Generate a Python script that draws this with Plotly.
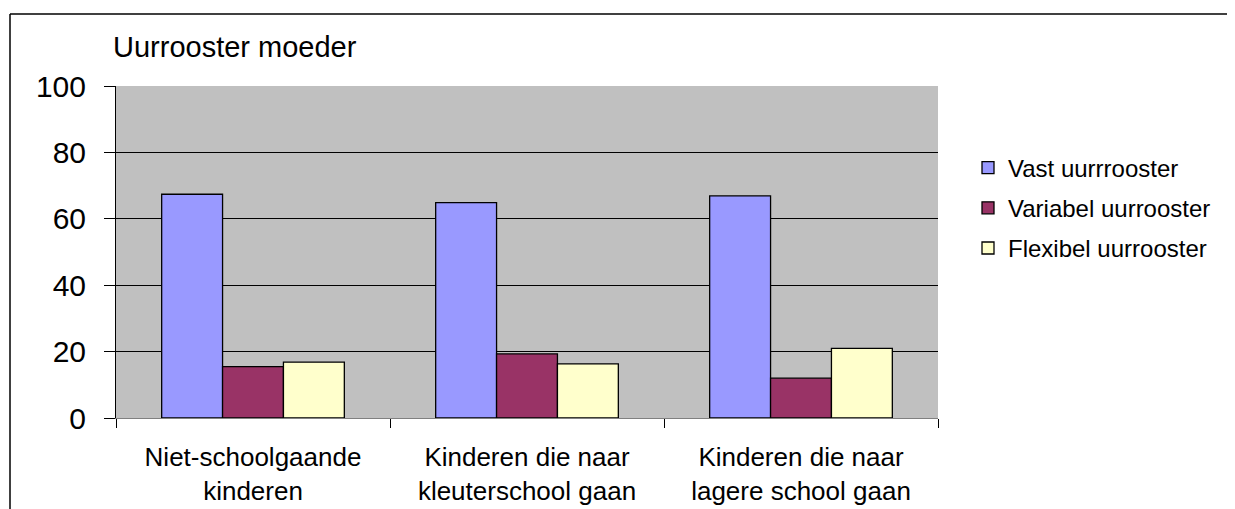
import plotly.graph_objects as go

categories = ["Niet-schoolgaande<br>kinderen",
              "Kinderen die naar<br>kleuterschool gaan",
              "Kinderen die naar<br>lagere school gaan"]
series_names = ["Vast uurrrooster", "Variabel uurrooster", "Flexibel uurrooster"]
vast = [67.4, 64.9, 66.9]
variabel = [15.5, 19.3, 12.0]
flexibel = [16.8, 16.3, 21.0]
y_ticks = [0, 20, 40, 60, 80, 100]
title_text = "Uurrooster moeder"

colors = ["#9999FF", "#993366", "#FFFFCC"]
FONT = "Arial, 'Liberation Sans', sans-serif"

# page body has an 8px margin; shift everything so it lands at the reference pixels
OFF = 8
W, H = 1235 - OFF, 509 - OFF
L, R, T, B = 116 - OFF, 938 - OFF, 86 - OFF, 418 - OFF

fig = go.Figure()
for name, vals, col in zip(series_names, [vast, variabel, flexibel], colors):
    fig.add_trace(go.Bar(
        x=categories, y=vals, name=name, legendgroup=name,
        marker=dict(color=col, line=dict(color="black", width=1.3)),
    ))

fig.update_layout(
    width=W, height=H,
    margin=dict(l=L, r=W - R, t=T, b=H - B, pad=0, autoexpand=False),
    paper_bgcolor="white",
    plot_bgcolor="#C0C0C0",
    barmode="group",
    bargap=1.5 / 4.5,
    bargroupgap=0,
    font=dict(family=FONT, color="black"),
    title=dict(text=title_text, x=(113 - OFF) / W, xanchor="left", xref="container",
               y=1 - (47 - OFF) / H, yanchor="middle", yref="container",
               font=dict(size=29, color="black", family=FONT)),
    legend=dict(x=(968 - 116) / (938 - 116), xanchor="left",
                y=(418 - 208) / (418 - 86), yanchor="middle",
                font=dict(size=24, family=FONT, color="black"),
                bgcolor="rgba(0,0,0,0)", tracegroupgap=6),
    showlegend=True,
)
fig.update_yaxes(range=[0, 100], tickvals=y_ticks, showgrid=True, gridcolor="black", gridwidth=1,
                 showline=True, linecolor="black", linewidth=1, ticks="outside", ticklen=11,
                 tickcolor="black", tickfont=dict(size=30, family=FONT, color="black"),
                 ticklabelstandoff=12, zeroline=False, automargin=False)
fig.update_xaxes(showline=True, linecolor="#808080", linewidth=1, ticks="outside", ticklen=9,
                 tickcolor="black", tickson="boundaries", automargin=False,
                 tickfont=dict(size=26, family=FONT, color="black"), ticklabelstandoff=16)

# outer frame lines (top and left)
fx0 = (10 - 116) / (938 - 116)
fx1 = (1235 - 116) / (938 - 116)
fy_top = (418 - 14) / (418 - 86)
fy_bot = (418 - 509) / (418 - 86)
fig.add_shape(type="line", xref="paper", yref="paper", x0=fx0, x1=fx1, y0=fy_top, y1=fy_top,
              line=dict(color="black", width=1.5))
fig.add_shape(type="line", xref="paper", yref="paper", x0=fx0, x1=fx0, y0=fy_top, y1=fy_bot,
              line=dict(color="black", width=1.5))

fig.write_html("out.html")
